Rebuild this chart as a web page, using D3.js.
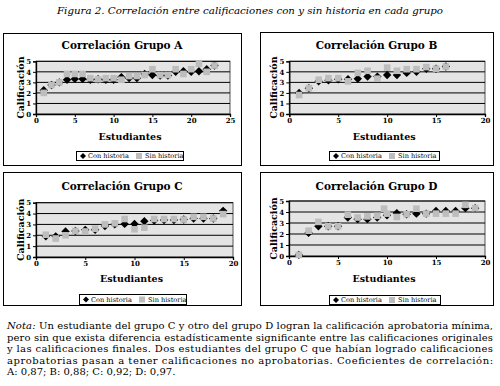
<!DOCTYPE html>
<html>
<head>
<meta charset="utf-8">
<script src="https://cdn.jsdelivr.net/npm/d3@7"></script>
<style>
  body { margin: 0; background: #fff; }
  svg { display: block; }
  text { font-family: "DejaVu Serif", serif; }
</style>
</head>
<body>
<svg width="500" height="386"></svg>
<script>
// values (student number -> grade)
var aX   = [1,2,3,4,5,6,7,8,9,10,11,12,13,14,15,16,17,18,19,20,21,22,23];
var aCon = [2.25,2.75,3.0,3.25,3.33,3.33,3.25,3.3,3.25,3.25,3.5,3.4,3.4,3.8,3.7,3.65,3.65,4.0,4.05,4.0,4.05,4.25,4.6];
var aSinX = [1,2,3,4,5,6,7,8,9,10,11,12,13,14,15,16,17,18,19,20,21,22,23];
var aSin = [2.0,2.75,3.0,3.8,3.8,3.8,3.4,3.3,3.4,3.4,3.25,3.6,3.6,3.7,4.25,3.7,3.7,4.25,3.8,4.25,4.75,4.0,4.6];

var bX   = [1,2,3,4,5,6,7,8,9,10,11,12,13,14,15,16];
var bCon = [2.0,2.45,3.1,3.2,3.3,3.3,3.35,3.55,3.55,3.7,3.7,3.9,4.0,4.3,4.3,4.5];
var bSinX = [1,2,3,4,5,6,7,8,9,10,11,12,13,14,15,16];
var bSin = [1.8,2.45,3.25,3.4,3.4,3.1,3.9,4.1,3.35,4.4,4.1,4.25,4.25,4.45,4.3,4.5];

var cX   = [1,2,3,4,5,6,7,8,9,10,11,12,13,14,15,16,17,18,19];
var cCon = [1.9,1.9,2.35,2.4,2.5,2.5,2.85,3.0,3.05,3.05,3.3,3.35,3.4,3.4,3.45,3.55,3.55,3.55,4.25];
var cSinX = [1,2,3,4,5,6,7,8,9,10,11,12,13,14,15,16,17,18,19];
var cSin = [2.05,1.7,2.0,2.4,2.35,2.6,3.0,3.1,3.5,2.55,2.7,3.5,3.5,3.5,3.45,3.7,3.7,3.55,3.95];

var dX   = [1,2,3,4,5,6,7,8,9,10,11,12,13,14,15,16,17,18,19];
var dCon = [0.1,2.1,2.7,2.7,2.7,3.5,3.35,3.35,3.5,3.7,3.9,3.8,3.85,3.85,4.1,4.1,4.1,4.35,4.35];
var dSinX = [1,2,3,4,5,6,7,8,9,9.7,10,11,12,13,14,15,16,17,18,19];
var dSin = [0.1,2.3,3.1,2.7,2.7,3.75,3.5,3.6,3.65,4.3,3.85,3.55,3.8,4.3,3.85,3.85,3.85,3.85,4.65,4.35];

var yTicks = [0,1,2,3,4,5];
var legendLabels = ["Con historia", "Sin historia"];
var caption = "Figura 2. Correlación entre calificaciones con y sin historia en cada grupo";
var noteLines = [
  "Un estudiante del grupo C y otro del grupo D logran la calificación aprobatoria mínima,",
  "pero sin que exista diferencia estadísticamente significante entre las calificaciones originales",
  "y las calificaciones finales. Dos estudiantes del grupo C que habían logrado calificaciones",
  "aprobatorias pasan a tener calificaciones no aprobatorias. Coeficientes de correlación:",
  "A: 0,87; B: 0,88; C: 0,92; D: 0,97."
];

var svg = d3.select("svg");
var grey = "#bdbdbd";

// caption
svg.append("text")
  .attr("x", 250).attr("y", 14)
  .attr("text-anchor", "middle")
  .attr("font-style", "italic")
  .attr("font-size", 9.5)
  .attr("textLength", 386).attr("lengthAdjust", "spacingAndGlyphs")
  .text(caption);

var panels = [
  {name: "A", box: [3, 33, 241, 165], plot: [36, 61.3, 230, 114], xMax: 25, tY: 45, eY: 137, leg: [76, 151, 183, 160],
   conX: aX, con: aCon, sinX: aSinX, sin: aSin},
  {name: "B", box: [260, 32, 493, 165], plot: [289.3, 61.3, 485, 114], xMax: 20, tY: 45, eY: 137, leg: [329, 151, 439, 160],
   conX: bX, con: bCon, sinX: bSinX, sin: bSin},
  {name: "C", box: [3, 172, 241, 305], plot: [36, 202.7, 233, 257], xMax: 20, tY: 186, eY: 279, leg: [79, 294, 186, 304],
   conX: cX, con: cCon, sinX: cSinX, sin: cSin},
  {name: "D", box: [260, 172, 493, 305], plot: [289, 201, 485, 256], xMax: 20, tY: 186, eY: 279, leg: [329, 295, 440, 304],
   conX: dX, con: dCon, sinX: dSinX, sin: dSin}
];

var diamond = function(s) { return "M0," + (-s) + "L" + s + ",0L0," + s + "L" + (-s) + ",0Z"; };

panels.forEach(function(p) {
  var g = svg.append("g");
  g.append("rect")
    .attr("x", p.box[0] + 0.5).attr("y", p.box[1] + 0.5)
    .attr("width", p.box[2] - p.box[0]).attr("height", p.box[3] - p.box[1])
    .attr("fill", "#fff").attr("stroke", "#000");

  var x = d3.scaleLinear().domain([0, p.xMax]).range([p.plot[0], p.plot[2]]);
  var y = d3.scaleLinear().domain([0, 5]).range([p.plot[3], p.plot[1]]);

  g.append("rect")
    .attr("x", p.plot[0]).attr("y", p.plot[1])
    .attr("width", p.plot[2] - p.plot[0]).attr("height", p.plot[3] - p.plot[1])
    .attr("fill", "#e4e4e4").attr("stroke", "#555").attr("stroke-width", 1);

  // gridlines
  g.selectAll(".grid").data(yTicks.slice(1)).enter().append("line")
    .attr("x1", p.plot[0]).attr("x2", p.plot[2])
    .attr("y1", function(d) { return y(d); }).attr("y2", function(d) { return y(d); })
    .attr("stroke", "#000").attr("stroke-width", 1);

  var xa = g.append("g").attr("transform", "translate(0," + p.plot[3] + ")")
    .call(d3.axisBottom(x).tickValues(d3.range(0, p.xMax + 1, 5)).tickFormat(d3.format("d")).tickSize(3).tickPadding(1));
  var ya = g.append("g").attr("transform", "translate(" + p.plot[0] + ",0)")
    .call(d3.axisLeft(y).tickValues(yTicks).tickFormat(d3.format("d")).tickSize(3).tickPadding(2));
  [xa, ya].forEach(function(a) {
    a.select(".domain").attr("stroke", "#000").attr("stroke-width", 1.3);
    a.selectAll("text").attr("font-family", "DejaVu Serif").attr("font-size", 7).attr("font-weight", "bold").attr("fill", "#000");
  });

  g.append("text").attr("x", (p.box[0] + p.box[2]) / 2).attr("y", p.tY + 4)
    .attr("text-anchor", "middle").attr("font-weight", "bold").attr("font-size", 10.5)
    .text("Correlación Grupo " + p.name);
  g.append("text").attr("x", (p.plot[0] + p.plot[2]) / 2 - 3).attr("y", p.eY + 3)
    .attr("text-anchor", "middle").attr("font-weight", "bold").attr("font-size", 9.5)
    .text("Estudiantes");
  g.append("text")
    .attr("transform", "translate(" + (p.plot[0] - 12) + "," + ((p.plot[1] + p.plot[3]) / 2) + ") rotate(-90)")
    .attr("text-anchor", "middle").attr("font-weight", "bold").attr("font-size", 9.5)
    .text("Calificación");

  // marks: squares drawn after diamonds (on top)
  g.selectAll(".con").data(p.con).enter().append("path")
    .attr("d", diamond(4.2))
    .attr("transform", function(d, i) { return "translate(" + x(p.conX[i]) + "," + y(d) + ")"; })
    .attr("fill", "#000");
  g.selectAll(".sin").data(p.sin).enter().append("rect")
    .attr("x", function(d, i) { return x(p.sinX[i]) - 3.3; })
    .attr("y", function(d) { return y(d) - 3.3; })
    .attr("width", 6.6).attr("height", 6.6)
    .attr("fill", grey);

  // legend
  var L = p.leg;
  g.append("rect").attr("x", L[0] + 0.5).attr("y", L[1] + 0.5)
    .attr("width", L[2] - L[0]).attr("height", L[3] - L[1])
    .attr("fill", "#fff").attr("stroke", "#000");
  var cy = (L[1] + L[3]) / 2 + 0.5;
  g.append("path").attr("d", diamond(3)).attr("transform", "translate(" + (L[0] + 7) + "," + cy + ")").attr("fill", "#000");
  g.append("text").attr("x", L[0] + 12).attr("y", cy + 2.3).attr("font-size", 6.6).text(legendLabels[0]);
  g.append("rect").attr("x", L[0] + 60).attr("y", cy - 3).attr("width", 6).attr("height", 6).attr("fill", grey);
  g.append("text").attr("x", L[0] + 69).attr("y", cy + 2.3).attr("font-size", 6.6).text(legendLabels[1]);
});

// note
var note = svg.append("g").attr("font-size", 10);
noteLines.forEach(function(line, i) {
  var t = note.append("text").attr("x", 7).attr("y", 329 + i * 11.6);
  if (i < 4) t.attr("textLength", 486).attr("lengthAdjust", "spacing");
  if (i === 0) {
    t.append("tspan").attr("font-style", "italic").text("Nota:");
    t.append("tspan").text(" " + line);
  } else {
    t.text(line);
  }
});
</script>
</body>
</html>
